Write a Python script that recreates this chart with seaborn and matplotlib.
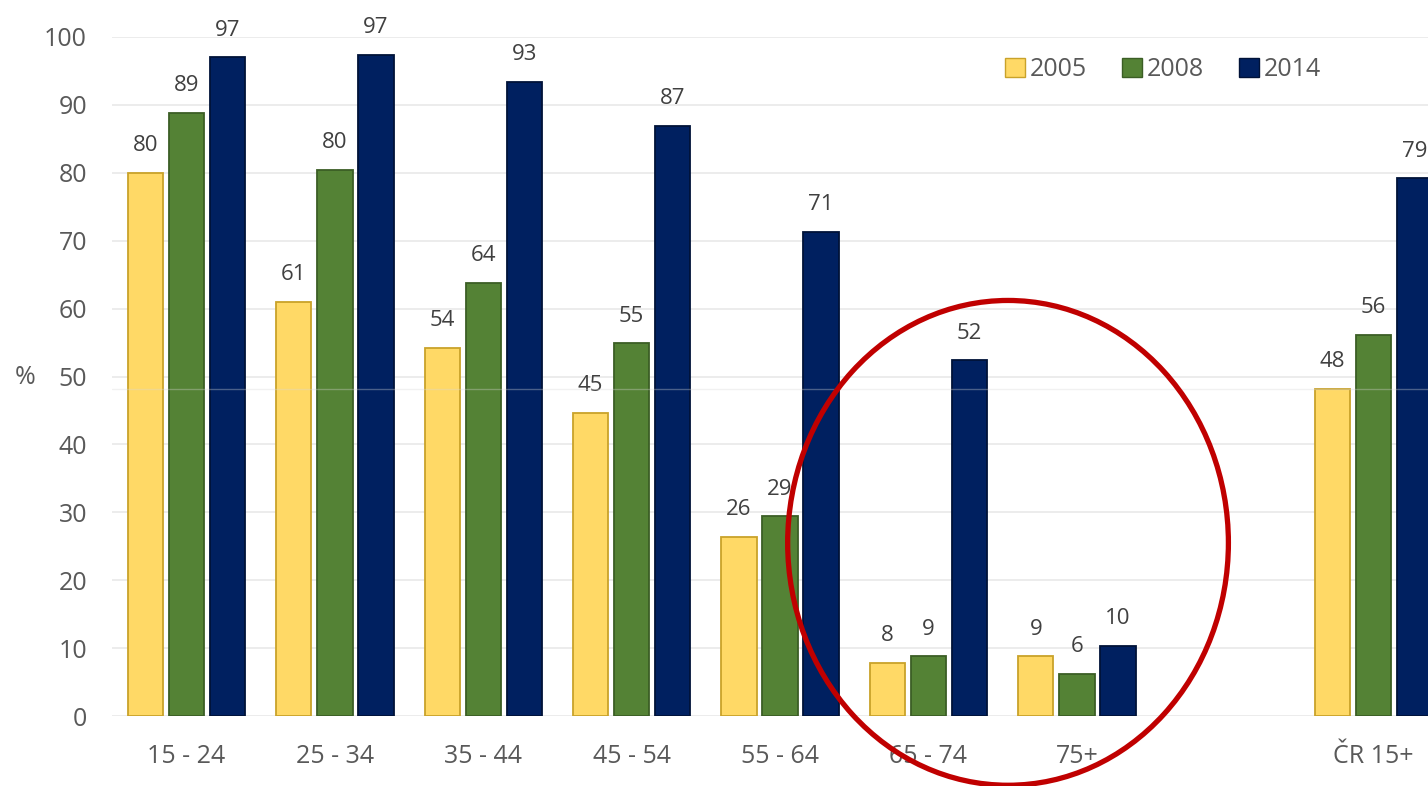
# =========================
# 1. IMPORT LIBRARIES
# =========================
import pandas as pd
import numpy as np
import seaborn as sns
import matplotlib.pyplot as plt
from matplotlib.patches import Ellipse

# =========================
# 2. DATA
# =========================
age_groups = ["15 - 24", "25 - 34", "35 - 44", "45 - 54", "55 - 64", "65 - 74", "75+", " ", "ČR 15+"]
years = ["2005", "2008", "2014"]
share_2005 = [80.0, 61.0, 54.2, 44.6, 26.4, 7.8, 8.8, np.nan, 48.2]
share_2008 = [88.8, 80.4, 63.8, 54.9, 29.4, 8.8, 6.2, np.nan, 56.1]
share_2014 = [97.0, 97.4, 93.4, 86.9, 71.3, 52.4, 10.3, np.nan, 79.2]
y_ticks = [0, 10, 20, 30, 40, 50, 60, 70, 80, 90, 100]

colors = ["#FFD966", "#548235", "#002060"]
edges = ["#C9A22A", "#3B5E25", "#001238"]

df = pd.DataFrame({
    "group": age_groups * 3,
    "year": [y for y in years for _ in age_groups],
    "value": share_2005 + share_2008 + share_2014,
})

# =========================
# 3. PLOT
# =========================
sns.set_style("white")
plt.rcParams["font.family"] = ["Open Sans", "DejaVu Sans"]

W, H = 1428, 786
fig = plt.figure(figsize=(W / 100, H / 100), dpi=100)
ax = fig.add_axes([112 / W, (H - 716) / H, 1 - 112 / W, (716 - 37) / H])

sns.barplot(data=df, x="group", y="value", hue="year", order=age_groups,
            hue_order=years, palette=colors, width=0.83, gap=0.14,
            saturation=1, ax=ax, zorder=3)

for cont, ec in zip(ax.containers, edges):
    for bar in cont:
        bar.set_edgecolor(ec)
        bar.set_linewidth(1.3)
    ax.bar_label(cont, fmt="%.0f", padding=12, fontsize=16, color="#404040", clip_on=False)

ax.set_xlim(-0.502, 8.366)
ax.set_ylim(0, 100)
ax.set_yticks(y_ticks)
ax.grid(axis="y", color="#e9e9e9", linewidth=1.2, zorder=0)
ax.set_axisbelow(True)
ax.axhline(48.2, color="#d8d8d8", linewidth=1, alpha=0.35, zorder=5)
sns.despine(ax=ax, left=True, bottom=True)

ax.tick_params(axis="both", length=0, labelsize=18, labelcolor="#595959")
ax.tick_params(axis="y", pad=18)
ax.tick_params(axis="x", pad=20)
ax.set_xlabel("")
ax.set_ylabel("%", rotation=0, fontsize=18, color="#595959", va="center")
ax.yaxis.set_label_coords(-(112 - 25) / (W - 112), (716 - 377) / (716 - 37))

# legend
handles, labels = ax.get_legend_handles_labels()
for h, ec in zip(handles, edges):
    h.set_edgecolor(ec)
ax.legend(handles, labels, loc="center", bbox_to_anchor=(1163 / W, 1 - 70 / H),
          bbox_transform=fig.transFigure, ncol=3, frameon=False, fontsize=18,
          handlelength=0.8, handleheight=0.8, handletextpad=0.2, columnspacing=1.4,
          labelcolor="#595959")

# red ring around the oldest groups
ring = Ellipse((5.536, 25.5), 2.97, 71.4, fill=False, edgecolor="#C00000",
               linewidth=3.8, clip_on=False, zorder=10)
ax.add_patch(ring)

fig.savefig("out.png", dpi=100)
